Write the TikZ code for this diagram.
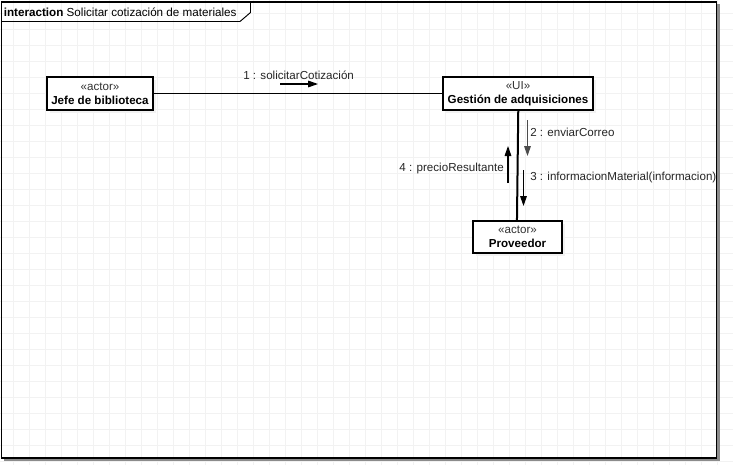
\documentclass[tikz,border=0pt]{standalone}
\usepackage{fontspec}
\setmainfont{Liberation Sans}
\usetikzlibrary{arrows.meta}
\definecolor{gridline}{HTML}{F2F2F2}
\definecolor{shadowgray}{HTML}{8C8C8C}
\begin{document}
\begin{tikzpicture}[x=0.75pt,y=-0.75pt,
  lifebox/.style={draw=black,line width=0.9pt,fill=white,rectangle,align=center,
    inner sep=0pt,font=\fontsize{8.7pt}{10.5pt}\selectfont},
  msg/.style={line width=0.8pt,-{Triangle[length=7.5pt,width=5pt]}},
  msglabel/.style={inner sep=0pt,font=\fontsize{8.7pt}{10pt}\selectfont,text=black!85},
  link/.style={line width=0.8pt}]
  \useasboundingbox (0,0) rectangle (733,465);
  \fill[white] (0,0) rectangle (733,465);
  % background grid
  \foreach \gx in {13,29,...,733} \draw[gridline,line width=0.5pt] (\gx,0) -- (\gx,465);
  \foreach \gy in {13.5,29.5,...,465} \draw[gridline,line width=0.5pt] (0,\gy) -- (733,\gy);
  % interaction frame with its shadow
  \draw[shadowgray,line width=1.6pt] (4,459.5) -- (718.5,459.5) -- (718.5,4);
  \draw[black,line width=0.9pt] (1.5,2) rectangle (716.5,458);
  \draw[black,line width=0.7pt] (1.5,21.5) -- (240,21.5) -- (250.5,12.5) -- (250.5,2);
  \node[anchor=west,inner sep=0pt,font=\fontsize{8.75pt}{11pt}\selectfont] (title) at (3.5,12)
    {\textbf{interaction} Solicitar cotización de materiales};
  % lifelines
  \fill[black!5] (50,80) rectangle (156,113);
  \fill[black!5] (446,80) rectangle (596,113);
  \fill[black!5] (476,224) rectangle (565,256);
  \node[lifebox,minimum width=106*0.75pt,minimum height=33*0.75pt] (jefe) at (100,93.5)
    {\textcolor{black!80}{«actor»}\\\textbf{Jefe de biblioteca}};
  \node[lifebox,minimum width=150*0.75pt,minimum height=33*0.75pt] (gest) at (518,93.5)
    {\textcolor{black!80}{«UI»}\\\textbf{Gestión de adquisiciones}};
  \node[lifebox,minimum width=89*0.75pt,minimum height=32*0.75pt] (prov) at (517.5,237)
    {\textcolor{black!80}{«actor»}\\\textbf{Proveedor}};
  % links between lifelines
  \draw[link] (jefe) -- (gest);
  \draw[line width=1.5pt] ([xshift=0.2pt]gest.south) -- ([xshift=-0.4pt]prov.north);
  % messages
  \coordinate (m1a) at (280,84);   \coordinate (m1b) at (318,84);
  \coordinate (m2a) at (527.5,120); \coordinate (m2b) at (527.5,156);
  \coordinate (m3a) at (523.5,170); \coordinate (m3b) at (523.5,206);
  \coordinate (m4a) at (508,183);  \coordinate (m4b) at (508,146);
  \draw[msg] (m1a) -- (m1b);
  \draw[msg,black!70] (m2a) -- (m2b);
  \draw[msg] (m3a) -- (m3b);
  \draw[msg] (m4a) -- (m4b);
  \node[msglabel,anchor=west] (l1) at (243,75.5) {1 : solicitarCotización};
  \node[msglabel,anchor=west] (l2) at (530,132.5) {2 : enviarCorreo};
  \node[msglabel,anchor=west] (l3) at (530,177) {3 : informacionMaterial(informacion)};
  \node[msglabel,anchor=east] (l4) at (504,168) {4 : precioResultante};
\end{tikzpicture}
\end{document}
